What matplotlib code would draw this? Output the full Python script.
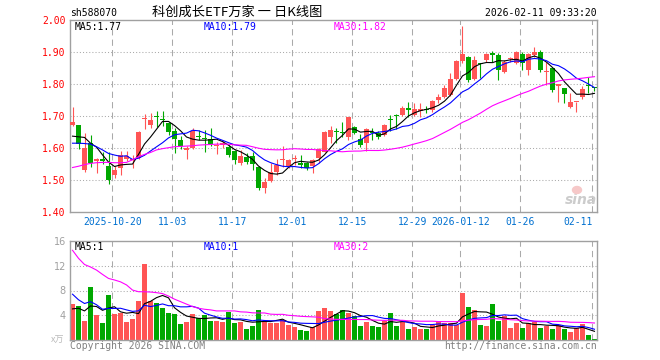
import matplotlib
matplotlib.use("Agg")
import matplotlib.pyplot as plt
import numpy as np
import pandas as pd

# daily candles, 2025-10-09 .. 2026-02-11 (88 trading days)
opens = [1.671, 1.672, 1.531, 1.615, 1.559, 1.566, 1.545, 1.516, 1.536, 1.567,
         1.562, 1.570, 1.690, 1.672, 1.701, 1.692, 1.677, 1.654, 1.625, 1.594,
         1.601, 1.638, 1.632, 1.627, 1.606, 1.609, 1.604, 1.592, 1.552, 1.573,
         1.575, 1.542, 1.474, 1.497, 1.526, 1.563, 1.542, 1.565, 1.552, 1.552,
         1.544, 1.568, 1.589, 1.635, 1.653, 1.650, 1.633, 1.667, 1.627, 1.615,
         1.650, 1.646, 1.641, 1.689, 1.702, 1.703, 1.723, 1.703, 1.717, 1.722,
         1.719, 1.750, 1.760, 1.766, 1.815, 1.873, 1.883, 1.815, 1.864, 1.875,
         1.896, 1.891, 1.836, 1.877, 1.867, 1.894, 1.844, 1.891, 1.901, 1.836,
         1.849, 1.794, 1.786, 1.727, 1.744, 1.758, 1.797, 1.789]
highs = [1.729, 1.673, 1.646, 1.641, 1.568, 1.588, 1.588, 1.544, 1.590, 1.591,
         1.577, 1.654, 1.707, 1.708, 1.716, 1.716, 1.680, 1.662, 1.638, 1.606,
         1.662, 1.656, 1.656, 1.663, 1.620, 1.621, 1.609, 1.595, 1.594, 1.583,
         1.589, 1.545, 1.505, 1.552, 1.566, 1.605, 1.567, 1.578, 1.578, 1.556,
         1.567, 1.599, 1.654, 1.670, 1.661, 1.682, 1.698, 1.670, 1.644, 1.663,
         1.661, 1.654, 1.675, 1.703, 1.706, 1.731, 1.743, 1.742, 1.740, 1.731,
         1.750, 1.769, 1.797, 1.833, 1.875, 1.981, 1.886, 1.886, 1.866, 1.898,
         1.904, 1.896, 1.875, 1.883, 1.904, 1.901, 1.896, 1.917, 1.906, 1.870,
         1.851, 1.800, 1.786, 1.771, 1.745, 1.794, 1.823, 1.790]
lows = [1.668, 1.596, 1.526, 1.542, 1.521, 1.550, 1.488, 1.507, 1.516, 1.560,
        1.536, 1.565, 1.658, 1.661, 1.665, 1.670, 1.641, 1.585, 1.596, 1.565,
        1.598, 1.625, 1.588, 1.606, 1.580, 1.599, 1.573, 1.550, 1.547, 1.550,
        1.531, 1.468, 1.460, 1.494, 1.516, 1.542, 1.537, 1.547, 1.538, 1.531,
        1.523, 1.553, 1.586, 1.615, 1.615, 1.633, 1.625, 1.644, 1.602, 1.592,
        1.625, 1.627, 1.638, 1.654, 1.660, 1.700, 1.698, 1.700, 1.698, 1.708,
        1.714, 1.742, 1.755, 1.763, 1.812, 1.865, 1.807, 1.812, 1.818, 1.870,
        1.870, 1.8125, 1.833, 1.870, 1.864, 1.844, 1.828, 1.885, 1.838, 1.797,
        1.776, 1.745, 1.742, 1.724, 1.714, 1.754, 1.771, 1.778]
closes = [1.682, 1.611, 1.601, 1.554, 1.566, 1.560, 1.500, 1.531, 1.578, 1.575,
          1.565, 1.651, 1.693, 1.687, 1.697, 1.687, 1.651, 1.629, 1.606, 1.599,
          1.654, 1.635, 1.628, 1.612, 1.609, 1.617, 1.578, 1.562, 1.575, 1.557,
          1.550, 1.474, 1.495, 1.526, 1.547, 1.567, 1.562, 1.568, 1.548, 1.537,
          1.562, 1.596, 1.651, 1.656, 1.649, 1.646, 1.696, 1.648, 1.609, 1.660,
          1.647, 1.633, 1.672, 1.686, 1.699, 1.724, 1.720, 1.721, 1.720, 1.719,
          1.748, 1.759, 1.786, 1.815, 1.873, 1.894, 1.813, 1.875, 1.861, 1.893,
          1.892, 1.844, 1.870, 1.879, 1.901, 1.865, 1.893, 1.899, 1.844, 1.841,
          1.781, 1.799, 1.769, 1.745, 1.746, 1.783, 1.793, 1.787]
volumes = [5.83, 5.5, 3.1, 8.56, 4.06, 2.78, 7.27, 4.22, 4.44, 2.94,
           3.42, 6.31, 12.25, 6.31, 5.94, 5.19, 4.39, 4.22, 2.62, 2.94,
           4.22, 3.48, 4.06, 3.1, 3.1, 2.94, 4.55, 2.78, 2.94, 1.82,
           2.3, 4.87, 3.1, 2.78, 2.78, 3.3, 2.46, 2.14, 1.66, 1.5,
           2.14, 4.7, 5.19, 4.7, 4.2, 4.87, 4.4, 3.9, 2.3, 2.94,
           2.3, 2.14, 3.15, 4.4, 2.3, 2.94, 1.82, 2.14, 1.82, 1.82,
           2.46, 3.1, 2.78, 2.78, 2.46, 7.6, 5.35, 4.87, 2.46, 2.3,
           5.83, 3.1, 3.9, 1.98, 2.78, 1.98, 2.78, 2.94, 1.98, 2.3,
           1.82, 2.46, 1.82, 1.34, 1.98, 2.62, 0.86, 0.21]

# moving-average values at the left edge (window reaches back before the chart)
ma5_head = [1.637, 1.635, 1.633, 1.615]
ma10_head = [1.615, 1.615, 1.614, 1.612, 1.604, 1.594, 1.583, 1.578, 1.574]
ma30_head = [1.539, 1.543, 1.548, 1.552, 1.554, 1.555, 1.555, 1.554, 1.554, 1.555,
             1.563, 1.573, 1.580, 1.586, 1.594, 1.598, 1.601, 1.604, 1.605, 1.606,
             1.607, 1.609, 1.610, 1.611, 1.612, 1.612, 1.612, 1.610, 1.609]
vma5_head = [5.03, 5.13, 4.7, 5.5]
vma10_head = [7.4, 6.5, 5.9, 6.2, 5.7, 4.97, 5.1, 5.1, 5.13]
vma30_head = [14.5, 13.2, 12.2, 11.8, 11.3, 10.6, 9.95, 9.7, 9.4, 8.9,
              8.07, 7.8, 7.8, 7.75, 7.65, 7.5, 7.1, 6.6, 6.2, 5.8,
              5.4, 5.13, 4.97, 4.87, 4.7, 4.7, 4.7, 4.7, 4.55]

tick_idx = [7, 17, 27, 37, 47, 57, 65, 75, 87]
tick_dates = ['2025-10-20', '11-03', '11-17', '12-01', '12-15', '12-29',
              '2026-01-12', '01-26', '02-11']

RED = '#ff5555'
GREEN = '#00a800'
GRID = '#aaaaaa'
MONO = 'DejaVu Sans Mono'
CJK = ['Noto Sans CJK SC', 'DejaVu Sans']


def moving(values, window, head):
    s = pd.Series(values).rolling(window).mean()
    s.iloc[:len(head)] = head
    return s.values


o = np.array(opens); h = np.array(highs); l = np.array(lows); c = np.array(closes)
v = np.array(volumes)
x = np.arange(len(c))
cols = np.where(c >= o, RED, GREEN)

W, H = 660, 360
fig = plt.figure(figsize=(6.6, 3.6), dpi=100)
ax = fig.add_axes([70 / W, 1 - 212 / H, 527 / W, 192 / H])
axv = fig.add_axes([70 / W, 1 - 340 / H, 527 / W, 99 / H])

for a in (ax, axv):
    a.set_xlim(-0.42, 87.42)
    for s in a.spines.values():
        s.set_color('#a0a0a0')
        s.set_linewidth(1.0)
    for t in tick_idx:
        a.axvline(t - 0.37, color=GRID, lw=0.75, ls=(0, (6, 4)), zorder=0)
    a.set_xticks([])

# price panel
for yv in [1.5, 1.6, 1.7, 1.8, 1.9]:
    ax.axhline(yv, color=GRID, lw=0.75, ls=(0, (1, 2)), zorder=0)
ax.vlines(x, l, h, colors=cols, lw=0.8, zorder=2)
body = np.maximum(np.abs(c - o), 0.0035)
ax.bar(x, body, bottom=np.minimum(o, c), width=0.8, color=cols, lw=0, zorder=3)
ax.plot(x, moving(c, 5, ma5_head), color='black', lw=0.8, zorder=4)
ax.plot(x, moving(c, 10, ma10_head), color='#0000ff', lw=0.8, zorder=4)
ax.plot(x, moving(c, 30, ma30_head), color='#ff00ff', lw=0.8, zorder=4)
ax.set_ylim(1.40, 2.00)
yt = [1.4, 1.5, 1.6, 1.7, 1.8, 1.9, 2.0]
ax.set_yticks(yt)
ax.set_yticklabels(['%.2f' % t for t in yt], family=MONO, fontsize=7, color='red')
ax.tick_params(axis='y', length=0, pad=3)

for t, lab in zip(tick_idx, tick_dates):
    if t == tick_idx[-1]:
        ax.text(t - 0.35, -0.052, lab, transform=ax.get_xaxis_transform(),
                ha='right', va='center', family=MONO, fontsize=7, color='#0070d0')
    else:
        ax.text(t - 0.37, -0.052, lab, transform=ax.get_xaxis_transform(),
                ha='center', va='center', family=MONO, fontsize=7, color='#0070d0')

# volume panel
for yv in [4, 8, 12]:
    axv.axhline(yv, color=GRID, lw=0.75, ls=(0, (1, 2)), zorder=0)
axv.bar(x, v, width=0.8, color=cols, lw=0, zorder=2)
axv.plot(x, moving(v, 5, vma5_head), color='black', lw=0.8, zorder=4)
axv.plot(x, moving(v, 10, vma10_head), color='#0000ff', lw=0.8, zorder=4)
axv.plot(x, moving(v, 30, vma30_head), color='#ff00ff', lw=0.8, zorder=4)
axv.set_ylim(0, 16)
axv.set_yticks([4, 8, 12, 16])
axv.set_yticklabels(['4', '8', '12', '16'], fontsize=7, color='#a0a0a0')
axv.tick_params(axis='y', length=0, pad=3)


def ftext(px, py, s, **kw):
    fig.text(px / W, 1 - py / H, s, va='center', **kw)


ftext(70, 13, 'sh588070', ha='left', family=MONO, fontsize=7)
ftext(237, 12.5, '科创成长ETF万家 一 日K线图', ha='center', family=CJK, fontsize=9.5)
ftext(597, 12.5, '2026-02-11 09:33:20', ha='right', family=MONO, fontsize=7)

ftext(75, 26.5, 'MA5:1.77', ha='left', family=MONO, fontsize=7, color='black')
ftext(204, 26.5, 'MA10:1.79', ha='left', family=MONO, fontsize=7, color='#0000ff')
ftext(334, 26.5, 'MA30:1.82', ha='left', family=MONO, fontsize=7, color='#ff00ff')
ftext(75, 246.5, 'MA5:1', ha='left', family=MONO, fontsize=7, color='black')
ftext(204, 246.5, 'MA10:1', ha='left', family=MONO, fontsize=7, color='#0000ff')
ftext(334, 246.5, 'MA30:2', ha='left', family=MONO, fontsize=7, color='#ff00ff')

ftext(64, 340, 'x万', ha='right', family=CJK, fontsize=6.5, color='#bbbbbb')
ftext(70, 346, 'Copyright 2026 SINA.COM', ha='left', family=MONO, fontsize=7, color='#808080')
ftext(597, 346, 'http://finance.sina.com.cn', ha='right', family=MONO, fontsize=7, color='#808080')

# sina watermark
ftext(581, 200, 'sina', ha='center', fontsize=10, style='italic', weight='bold', color='#cccccc')
fig.patches.append(matplotlib.patches.Ellipse((577 / W, 1 - 190 / H), 9 / W, 7 / H,
                                              transform=fig.transFigure,
                                              color='#f6c8c8', zorder=5))

fig.savefig('out.png', dpi=100)
